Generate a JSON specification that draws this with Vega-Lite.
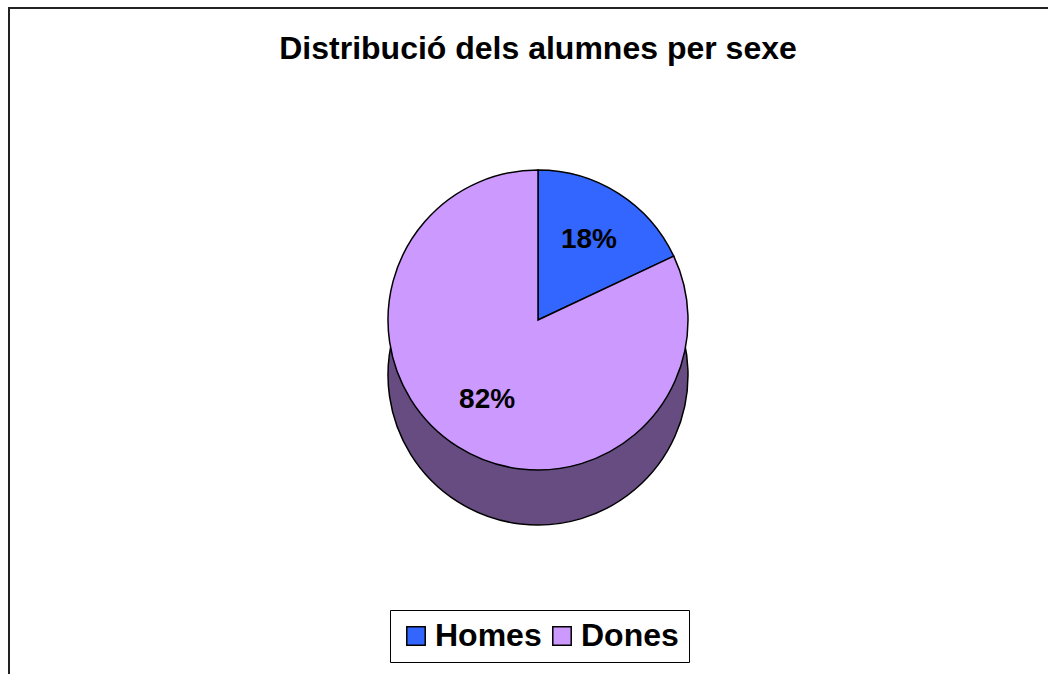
{
  "$schema": "https://vega.github.io/schema/vega-lite/v6.json",
  "width": 1058,
  "height": 700,
  "autosize": {"type": "none"},
  "padding": {"left": 9, "top": 8, "right": 0, "bottom": 0},
  "background": "white",
  "view": {"stroke": "#222222", "strokeWidth": 2},
  "title": {
    "text": "Distribució dels alumnes per sexe",
    "font": "Liberation Sans",
    "fontSize": 32,
    "fontWeight": "bold",
    "color": "black",
    "anchor": "middle",
    "frame": "group",
    "offset": -58
  },
  "data": {
    "values": [
      {"sexe": "Homes", "fraccio": 0.18, "ordre": 1},
      {"sexe": "Dones", "fraccio": 0.82, "ordre": 2}
    ]
  },
  "encoding": {
    "theta": {"field": "fraccio", "type": "quantitative", "stack": true},
    "order": {"field": "ordre", "type": "quantitative"}
  },
  "layer": [
    {
      "mark": {"type": "arc", "outerRadius": 150, "yOffset": 17, "fill": "#664C80", "stroke": "black", "strokeWidth": 1.5}
    },
    {
      "mark": {"type": "arc", "outerRadius": 150, "yOffset": -38, "stroke": "black", "strokeWidth": 1.5},
      "encoding": {
        "color": {
          "field": "sexe",
          "type": "nominal",
          "scale": {"domain": ["Homes", "Dones"], "range": ["#3366FF", "#CC99FF"]},
          "legend": {
            "orient": "none",
            "legendX": 381,
            "legendY": 602,
            "direction": "horizontal",
            "title": null,
            "strokeColor": "black",
            "fillColor": "white",
            "padding": 10,
            "symbolType": "square",
            "symbolSize": 340,
            "symbolStrokeColor": "black",
            "symbolStrokeWidth": 1.5,
            "symbolOpacity": 1,
            "labelFont": "Liberation Sans",
            "labelFontSize": 32,
            "labelFontWeight": "bold",
            "labelColor": "black",
            "columnPadding": 4,
            "labelOffset": 3
          }
        }
      }
    },
    {
      "mark": {"type": "text", "radius": 95, "yOffset": -38, "font": "Liberation Sans", "fontSize": 28, "fontWeight": "bold", "color": "black"},
      "encoding": {"text": {"field": "fraccio", "type": "quantitative", "format": ".0%"}}
    }
  ]
}
